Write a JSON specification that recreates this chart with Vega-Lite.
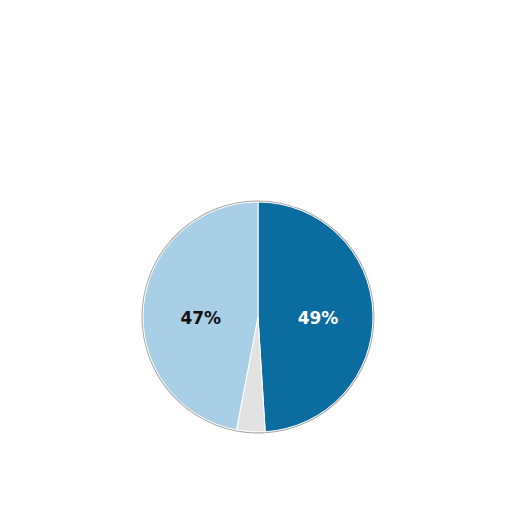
{
  "$schema": "https://vega.github.io/schema/vega-lite/v6.json",
  "autosize": {"type": "fit", "contains": "padding"},
  "width": 512,
  "height": 512,
  "padding": {"top": 122, "left": 4, "right": 0, "bottom": 0},
  "background": "white",
  "config": {"view": {"stroke": null}},
  "data": {
    "values": [
      {"group": "A", "value": 49, "order": 1, "label": "49%"},
      {"group": "Other", "value": 4, "order": 2, "label": ""},
      {"group": "B", "value": 47, "order": 3, "label": "47%"}
    ]
  },
  "encoding": {
    "theta": {"field": "value", "type": "quantitative", "stack": true},
    "order": {"field": "order", "type": "quantitative"}
  },
  "layer": [
    {
      "mark": {"type": "arc", "outerRadius": 116.5, "innerRadius": 114.5},
      "encoding": {"color": {"value": "#a9a9a9"}}
    },
    {
      "mark": {"type": "arc", "outerRadius": 115, "stroke": "white", "strokeWidth": 1},
      "encoding": {
        "color": {
          "field": "group",
          "type": "nominal",
          "scale": {"domain": ["A", "Other", "B"], "range": ["#0b6c9f", "#e2e2e2", "#a8cfe5"]},
          "legend": null
        }
      }
    },
    {
      "mark": {"type": "text", "radius": 60, "dy": 3.5, "fontSize": 17, "fontWeight": "bold", "font": "DejaVu Sans", "color": "#ffffff"},
      "encoding": {
        "text": {"condition": {"test": "datum.group === 'A'", "field": "label"}, "value": ""}
      }
    },
    {
      "mark": {"type": "text", "radius": 60, "dx": 2.5, "dy": 7.5, "fontSize": 17, "fontWeight": "bold", "font": "DejaVu Sans", "color": "#111111"},
      "encoding": {
        "text": {"condition": {"test": "datum.group === 'B'", "field": "label"}, "value": ""}
      }
    }
  ]
}
